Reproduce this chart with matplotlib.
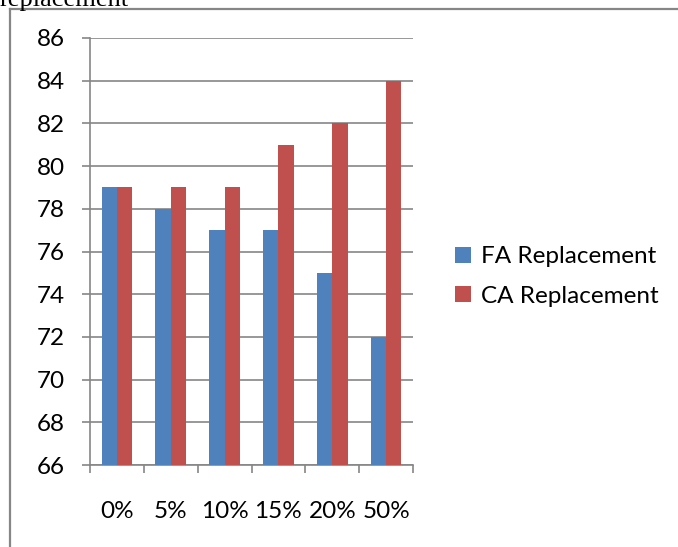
import matplotlib.pyplot as plt
from matplotlib.lines import Line2D
import numpy as np

# data
categories = ["0%", "5%", "10%", "15%", "20%", "50%"]
fa_values = [79, 78, 77, 77, 75, 72]
ca_values = [79, 79, 79, 81, 82, 84]
series_names = ["FA Replacement", "CA Replacement"]
y_ticks = list(range(66, 87, 2))

BLUE = "#4F81BD"
RED = "#C0504D"
GRID = "#868686"
W, H = 678, 547

plt.rcParams["font.family"] = ["Lato", "DejaVu Sans"]

fig = plt.figure(figsize=(W / 100, H / 100), dpi=100)
fig.patch.set_facecolor("white")

# caption above the frame, cut off by the top edge like in the source
fig.text(0 / W, 1 - 6 / H, "replacement", family="Liberation Serif",
         fontsize=19, va="baseline", ha="left", color="black")

# frame around the chart (left and top edges only visible)
fig.add_artist(Line2D([10 / W, 10 / W], [0, 1 - 9 / H], color=GRID, lw=1.6))
fig.add_artist(Line2D([10 / W, 1], [1 - 9 / H, 1 - 9 / H], color=GRID, lw=1.6))

ax = fig.add_axes([90 / W, 1 - 465 / H, (413 - 90) / W, (465 - 38) / H])

x = np.arange(len(categories))
bw = 1 / 3.5
ax.bar(x - bw / 2, np.array(fa_values) - 66, bw, bottom=66, color=BLUE,
       label=series_names[0], zorder=3)
ax.bar(x + bw / 2, np.array(ca_values) - 66, bw, bottom=66, color=RED,
       label=series_names[1], zorder=3)

ax.set_ylim(66, 86)
ax.set_xlim(-0.5, len(categories) - 0.5)
ax.set_yticks(y_ticks)
ax.set_yticklabels([str(v) for v in y_ticks], fontsize=17.5)
ax.set_xticks(np.arange(len(categories) + 1) - 0.5)
ax.set_xticklabels([])
ax.set_xticks(x, minor=True)
ax.set_xticklabels(categories, minor=True, fontsize=17.5)

ax.tick_params(axis="y", length=6, width=1.2, color=GRID, pad=12)
ax.tick_params(axis="x", which="major", length=6, width=1.2, color=GRID)
ax.tick_params(axis="x", which="minor", length=0, pad=26)

ax.grid(axis="y", color=GRID, lw=1.2, zorder=0)
for side in ["top", "right"]:
    ax.spines[side].set_visible(False)
for side in ["left", "bottom"]:
    ax.spines[side].set_color(GRID)
    ax.spines[side].set_linewidth(1.2)

fig.legend(loc="center left", bbox_to_anchor=(455 / W, 1 - 276.5 / H),
           frameon=False, fontsize=17.5, handlelength=0.65, handleheight=0.65,
           handletextpad=0.4, labelspacing=0.75, borderpad=0, borderaxespad=0)

fig.savefig("out.png", dpi=100)
